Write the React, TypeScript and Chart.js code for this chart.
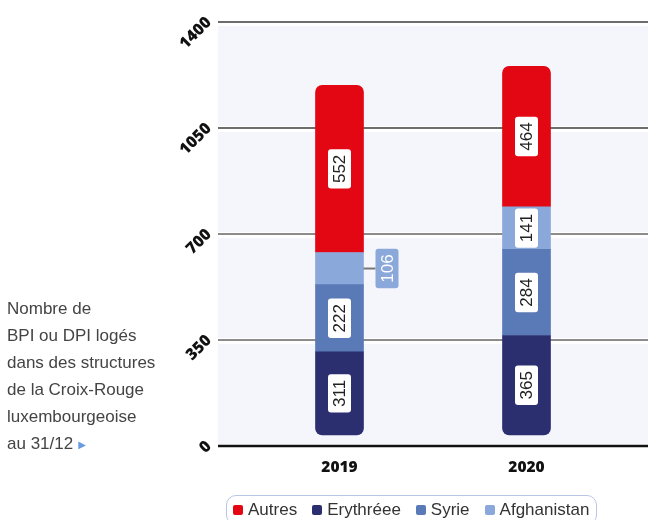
import React, { useEffect, useRef } from 'react';
import { Chart, registerables } from 'chart.js';

Chart.register(...registerables);

// ---- data ----
const years = ['2019', '2020'];
const erythree = [311, 365];
const syrie = [222, 284];
const afghanistan = [106, 141];
const autres = [552, 464];
const yTicks = [0, 350, 700, 1050, 1400];
const legendLabels = ['Autres', 'Erythréee', 'Syrie', 'Afghanistan'];
const noteLines = ['Nombre de', 'BPI ou DPI logés', 'dans des structures', 'de la Croix-Rouge', 'luxembourgeoise', 'au 31/12'];

// ---- styles ----
const COLORS: Record<string, string> = {
  Autres: '#e30613',
  'Erythréee': '#2b2f6f',
  Syrie: '#5a79b7',
  Afghanistan: '#8aa8da',
};
const PANEL_LEFT = 218;
const BAR_INSET = 11;
const LABEL_FONT = '17px "Liberation Sans", Arial, sans-serif';
const AXIS_FAMILY = '"Open Sans", Inter, "DejaVu Sans", sans-serif';

const insetPlugin = {
  id: 'inset',
  afterDatasetsUpdate(chart: any) {
    const meta = chart.getDatasetMeta(0);
    meta.data.forEach((el: any) => {
      el.base = el.base - BAR_INSET;
    });
  },
};

const panelPlugin = {
  id: 'panel',
  beforeDatasetsDraw(chart: any) {
    const { ctx, width } = chart;
    const y = chart.scales.y;
    ctx.save();
    ctx.fillStyle = '#f4f6fb';
    for (let i = 0; i < yTicks.length - 1; i++) {
      const yb = y.getPixelForValue(yTicks[i]);
      const yt = y.getPixelForValue(yTicks[i + 1]);
      ctx.fillRect(PANEL_LEFT, yt + 4, width - PANEL_LEFT, yb - yt - 6);
    }
    yTicks.forEach((v) => {
      const py = Math.round(y.getPixelForValue(v));
      ctx.beginPath();
      ctx.strokeStyle = v === 0 ? '#111' : v >= 1050 ? '#6d6d6d' : '#1a1a1a';
      ctx.lineWidth = v === 0 ? 2.5 : v >= 1050 ? 2 : 1.2;
      ctx.moveTo(PANEL_LEFT, py);
      ctx.lineTo(width, py);
      ctx.stroke();
    });
    ctx.fillStyle = '#111';
    ctx.font = '800 16px ' + AXIS_FAMILY;
    ctx.textAlign = 'right';
    ctx.textBaseline = 'middle';
    yTicks.forEach((v) => {
      const py = y.getPixelForValue(v);
      ctx.save();
      ctx.translate(209, py - 2);
      ctx.rotate(-Math.PI / 4);
      ctx.fillText(String(v), 0, 0);
      ctx.restore();
    });
    ctx.restore();
  },
};

function roundRect(ctx: CanvasRenderingContext2D, x: number, y: number, w: number, h: number, r: number) {
  ctx.beginPath();
  ctx.moveTo(x + r, y);
  ctx.lineTo(x + w - r, y);
  ctx.quadraticCurveTo(x + w, y, x + w, y + r);
  ctx.lineTo(x + w, y + h - r);
  ctx.quadraticCurveTo(x + w, y + h, x + w - r, y + h);
  ctx.lineTo(x + r, y + h);
  ctx.quadraticCurveTo(x, y + h, x, y + h - r);
  ctx.lineTo(x, y + r);
  ctx.quadraticCurveTo(x, y, x + r, y);
  ctx.closePath();
}

const labelPlugin = {
  id: 'segLabels',
  afterDatasetsDraw(chart: any) {
    const { ctx } = chart;
    ctx.save();
    ctx.font = LABEL_FONT;
    chart.data.datasets.forEach((ds: any, di: number) => {
      const meta = chart.getDatasetMeta(di);
      meta.data.forEach((el: any, j: number) => {
        const text = String(ds.data[j]);
        const top = Math.min(el.y, el.base);
        const bot = Math.max(el.y, el.base);
        const h = bot - top;
        const cy = (top + bot) / 2;
        const tw = ctx.measureText(text).width;
        const bw = 23;
        const bh = tw + 11;
        const outside = h < 36;
        let cx = el.x;
        if (outside) {
          const edge = el.x + el.width / 2;
          cx = edge + 12 + bw / 2;
          ctx.beginPath();
          ctx.strokeStyle = '#777';
          ctx.lineWidth = 2;
          ctx.moveTo(edge, cy);
          ctx.lineTo(edge + 12, cy);
          ctx.stroke();
        }
        ctx.fillStyle = outside ? ds.backgroundColor : '#ffffff';
        roundRect(ctx, cx - bw / 2, cy - bh / 2, bw, bh, 3);
        ctx.fill();
        ctx.save();
        ctx.translate(cx, cy);
        ctx.rotate(-Math.PI / 2);
        ctx.fillStyle = outside ? '#ffffff' : '#222';
        ctx.textAlign = 'center';
        ctx.textBaseline = 'middle';
        ctx.fillText(text, 0, 1);
        ctx.restore();
      });
    });
    ctx.restore();
  },
};

export default function App() {
  const ref = useRef<HTMLCanvasElement | null>(null);

  useEffect(() => {
    if (!ref.current) return;
    const chart = new Chart(ref.current, {
      type: 'bar',
      data: {
        labels: years,
        datasets: [
          {
            label: 'Erythréee',
            data: erythree,
            backgroundColor: COLORS['Erythréee'],
            borderRadius: { topLeft: 0, topRight: 0, bottomLeft: 7, bottomRight: 7 },
            borderSkipped: false,
          },
          {
            label: 'Syrie',
            data: syrie,
            backgroundColor: COLORS.Syrie,
            borderRadius: 0,
            borderSkipped: false,
          },
          {
            label: 'Afghanistan',
            data: afghanistan,
            backgroundColor: COLORS.Afghanistan,
            borderRadius: 0,
            borderSkipped: false,
          },
          {
            label: 'Autres',
            data: autres,
            backgroundColor: COLORS.Autres,
            borderRadius: { topLeft: 7, topRight: 7, bottomLeft: 0, bottomRight: 0 },
            borderSkipped: false,
          },
        ] as any,
      },
      options: {
        animation: false,
        responsive: false,
        maintainAspectRatio: false,
        layout: { padding: { left: 246, right: 28, top: 22, bottom: 14 } },
        datasets: { bar: { barThickness: 48 } } as any,
        plugins: { legend: { display: false }, tooltip: { enabled: false } },
        scales: {
          x: {
            stacked: true,
            grid: { display: false, drawTicks: false },
            border: { display: false },
            ticks: {
              color: '#111',
              font: { family: AXIS_FAMILY, weight: 800 as any, size: 15.5 },
              padding: 12,
            },
            afterFit(scale: any) {
              scale.height = 60;
            },
          },
          y: { stacked: true, display: false, min: 0, max: 1400 },
        },
      },
      plugins: [insetPlugin, panelPlugin, labelPlugin],
    });
    return () => chart.destroy();
  }, []);

  return (
    <div style={{ position: 'fixed', left: 0, top: 0, width: 648, height: 520, overflow: 'hidden', background: '#fff' }}>
      <canvas ref={ref} width={648} height={520} style={{ position: 'absolute', left: 0, top: 0, width: 648, height: 520 }} />
      <div
        style={{
          position: 'absolute',
          left: 7,
          top: 295,
          font: '17px "Liberation Sans", Arial, sans-serif',
          lineHeight: '27px',
          color: '#444',
          whiteSpace: 'nowrap',
        }}
      >
        {noteLines.map((l, i) => (
          <div key={i}>
            {l}
            {i === noteLines.length - 1 ? (
              <span style={{ color: '#6a9be0', fontSize: 10, marginLeft: 5, verticalAlign: 'middle', fontFamily: '"DejaVu Sans", sans-serif' }}>▶</span>
            ) : null}
          </div>
        ))}
      </div>
      <div
        style={{
          position: 'absolute',
          left: 226,
          top: 495,
          width: 371,
          height: 30,
          boxSizing: 'border-box',
          border: '1.5px solid #b9c5e4',
          borderRadius: 10,
          display: 'flex',
          alignItems: 'center',
          paddingLeft: 6,
          font: '17px "Liberation Sans", Arial, sans-serif',
          color: '#333',
        }}
      >
        {legendLabels.map((l) => (
          <div key={l} style={{ display: 'flex', alignItems: 'center', marginRight: 15 }}>
            <span style={{ display: 'inline-block', width: 10, height: 10, borderRadius: 2, background: COLORS[l], marginRight: 5 }} />
            <span>{l}</span>
          </div>
        ))}
      </div>
    </div>
  );
}
